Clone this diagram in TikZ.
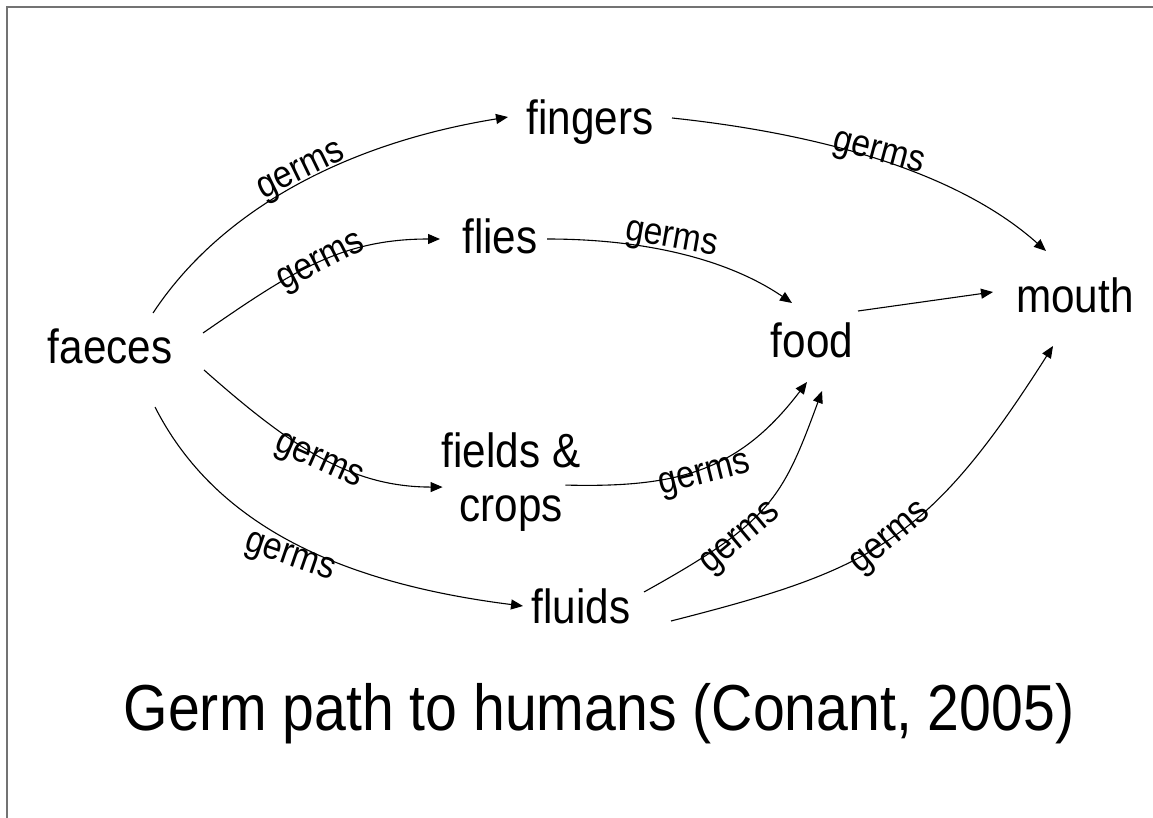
\documentclass[tikz,border=0pt]{standalone}
\usepackage{fontspec}
\setmainfont{Liberation Sans}[FakeStretch=0.88]
\usetikzlibrary{arrows.meta}

\begin{document}
\begin{tikzpicture}[
      x=1pt, y=-1pt,
      word/.style={inner sep=0pt, anchor=base, font=\fontsize{48}{54}\selectfont},
      germs/.style={inner sep=0pt, font=\fontsize{38}{44}\selectfont},
      arrow/.style={-{Triangle[length=12pt, width=10pt]}, line width=1.1pt}
    ]
    \useasboundingbox (0,0) rectangle (1153,818);
    \draw[line width=2pt, black!55] (6.5,818) -- (6.5,7.5) -- (1153,7.5);

    \node[word] (faeces) at (110,363) {faeces};
    \node[word] (fingers) at (590,135) {fingers};
    \node[word] (flies) at (500,254) {flies};
    \node[word, anchor=north, align=center] (fields) at (511,433) {fields \&\\crops};
    \node[word] (fluids) at (581,623) {fluids};
    \node[word] (food) at (812,357) {food};
    \node[word] (mouth) at (1075,312) {mouth};

    \draw[arrow] ([shift={(43,-50)}]faeces.base) .. controls (217,216) and (336,145) .. ([shift={(-82,-18)}]fingers.base);
    \draw[arrow] ([shift={(93,-30)}]faeces.base) .. controls (290,273) and (340,239) .. ([shift={(-60,-15)}]flies.base);
    \draw[arrow] ([shift={(94,7)}]faeces.base) .. controls (290,446) and (350,487) .. ([shift={(1,4.5)}]fields.west);
    \draw[arrow] ([shift={(45,44)}]faeces.base) .. controls (215,525) and (340,583) .. ([shift={(-58,-17)}]fluids.base);
    \draw[arrow] ([shift={(82,-17)}]fingers.base) .. controls (832,135) and (962,176) .. ([shift={(-29,-61)}]mouth.base);
    \draw[arrow] ([shift={(47,-15)}]flies.base) .. controls (647,239) and (729,260) .. ([shift={(-20,-54)}]food.base);
    \draw[arrow] ([shift={(46,-46)}]food.base) -- ([shift={(-82,-20)}]mouth.base);
    \draw[arrow] ([shift={(-15,2.5)}]fields.east) .. controls (680,488) and (740,470) .. ([shift={(-5,25)}]food.base);
    \draw[arrow] ([shift={(63,-31)}]fluids.base) .. controls (770,522) and (782,500) .. ([shift={(10,34)}]food.base);
    \draw[arrow] ([shift={(90,-2)}]fluids.base) .. controls (871,570) and (928,543) .. ([shift={(-22,34)}]mouth.base);

    \node[germs, rotate=26] (germs1) at (302,173) {germs};
    \node[germs, rotate=27] (germs2) at (322,264) {germs};
    \node[germs, rotate=-24] (germs3) at (318,463) {germs};
    \node[germs, rotate=-19] (germs4) at (289,559) {germs};
    \node[germs, rotate=-15] (germs5) at (878,155) {germs};
    \node[germs, rotate=-10] (germs6) at (671,241) {germs};
    \node[germs, rotate=14] (germs7) at (705,477) {germs};
    \node[germs, rotate=40] (germs8) at (742,540) {germs};
    \node[germs, rotate=40] (germs9) at (892,540) {germs};

    \node[word, font=\fontsize{65}{72}\selectfont] (caption) at (599,730) {Germ path to humans (Conant, 2005)};
  \end{tikzpicture}
\end{document}
